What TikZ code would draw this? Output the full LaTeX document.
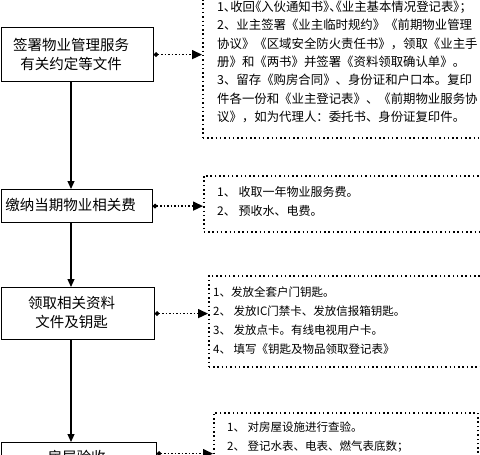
\documentclass[tikz,border=0pt]{standalone}
\usepackage{fontspec}
\setmainfont{Noto Sans CJK SC}
\usetikzlibrary{arrows.meta}
\begin{document}
\begin{tikzpicture}[x=1pt,y=-1pt,
  mainbox/.style={draw, line width=1.2pt, inner sep=0pt, anchor=north west},
  boxtext/.style={font=\fontsize{14.5}{19.5}\selectfont, align=center},
  dotbox/.style={draw, line width=1.5pt, dash pattern=on 1.5pt off 2.8pt, inner sep=0pt, anchor=north west},
  note/.style={align=left, anchor=north west, inner sep=0pt},
  flow/.style={line width=1.2pt, -{Triangle[length=8pt,width=7pt]}},
  link/.style={line width=1.5pt, dash pattern=on 1.5pt off 2pt, {Circle[length=4.5pt]}-{Triangle[length=10pt,width=9pt]}}]
\useasboundingbox (0,0) rectangle (480,455);
\clip (0,0) rectangle (480,455);
\coordinate (sp) at (71,0);
% main boxes
\node[mainbox, minimum width=152pt, minimum height=54pt,
  label={[boxtext, xshift=-6pt]center:{签署物业管理服务\\有关约定等文件}}] (b1) at (0.6,27) {};
\node[mainbox, minimum width=151pt, minimum height=33pt,
  label={[boxtext, xshift=-6pt, yshift=1pt]center:{缴纳当期物业相关费}}] (b2) at (0.6,189) {};
\node[mainbox, minimum width=153pt, minimum height=52pt,
  label={[boxtext, xshift=-6pt, yshift=1pt]center:{领取相关资料\\文件及钥匙}}] (b3) at (0.6,287) {};
\node[mainbox, minimum width=155pt, minimum height=22pt,
  label={[boxtext, xshift=-2pt, yshift=-3pt]center:{房屋验收}}] (b4) at (0.6,442) {};
% dotted boxes
\node[dotbox, minimum width=290pt, minimum height=147pt] (d1) at (202,-10) {};
\node[dotbox, minimum width=290pt, minimum height=56pt] (d2) at (203,175) {};
\node[dotbox, minimum width=290pt, minimum height=91pt] (d3) at (208,275) {};
\node[dotbox, minimum width=264pt, minimum height=60pt] (d4) at (213,412) {};
% notes
\node[note, font=\fontsize{12.4}{18.3}\selectfont] (n1) at (217,1) {%
{\addfontfeatures{RawFeature=+palt}1、收回《入伙通知书》、《业主基本情况登记表》；}\\
2、业主签署《业主临时规约》《前期物业管理\\
协议》《区域安全防火责任书》，领取《业主手\\
册》和《两书》并签署《资料领取确认单》。\\
3、留存《购房合同》、身份证和户口本。复印\\
件各一份和《业主登记表》、《前期物业服务协\\
议》，如为代理人：委托书、身份证复印件。};
\node[note, font=\fontsize{12}{19}\selectfont] (n2) at (217,186) {%
1、 收取一年物业服务费。\\
2、 预收水、电费。};
\node[note, font=\fontsize{11.5}{18.7}\selectfont] (n3) at (213,287) {%
1、发放全套户门钥匙。\\
2、 发放IC门禁卡、发放信报箱钥匙。\\
3、 发放点卡。有线电视用户卡。\\
4、 填写《钥匙及物品领取登记表》};
\node[note, font=\fontsize{11.5}{19}\selectfont] (n4) at (227,422) {%
1、 对房屋设施进行查验。\\
2、 登记水表、电表、燃气表底数；};
% flow
\draw[flow] (b1.south -| sp) -- (b2.north -| sp);
\draw[flow] (b2.south -| sp) -- (b3.north -| sp);
\draw[flow] (b3.south -| sp) -- (b4.north -| sp);
% links
\draw[link] (b1.east) -- (b1.east -| d1.west);
\draw[link] (b2.east) -- (b2.east -| d2.west);
\draw[link] (b3.east) -- (b3.east -| d3.west);
\draw[link] (b4.east) -- (b4.east -| d4.west);
\end{tikzpicture}
\end{document}
